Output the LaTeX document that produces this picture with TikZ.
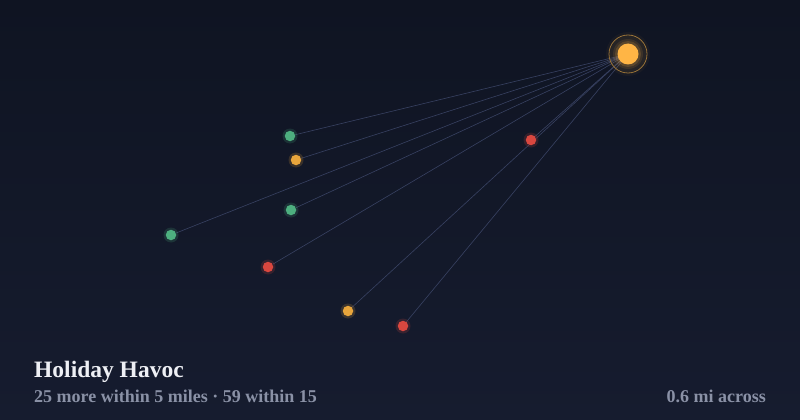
\documentclass[tikz,border=0pt]{standalone}
\usepackage{fontspec}
\setmainfont{Liberation Serif}
\usepackage{tikz}
\usepackage{xcolor}
\usetikzlibrary{positioning,backgrounds}

\definecolor{bgtop}{HTML}{0F1422}
\definecolor{bgbot}{HTML}{161C2F}
\definecolor{hubfill}{HTML}{FFB545}
\definecolor{hubring}{HTML}{9C7538}
\definecolor{spoke}{HTML}{3C4668}
\definecolor{pingreen}{HTML}{4DAF7F}
\definecolor{pinorange}{HTML}{E8A53C}
\definecolor{pinred}{HTML}{D9473F}
\definecolor{titletxt}{HTML}{EEF0F5}
\definecolor{subtxt}{HTML}{8A91A6}

\tikzset{
  pin/.style={circle, inner sep=0pt, minimum size=10.5pt, draw=none},
  hubdot/.style={circle, inner sep=0pt, minimum size=21pt, fill=hubfill},
  spokeline/.style={spoke, line width=0.6pt, opacity=0.9},
  caption/.style={anchor=base west, inner sep=0pt, text=subtxt, font=\bfseries\fontsize{18}{21}\selectfont}
}

\begin{document}
\begin{tikzpicture}[x=1pt, y=-1pt]
  % backdrop
  \begin{scope}[on background layer]
    \shade[top color=bgtop, bottom color=bgbot] (0,0) rectangle (800,420);
  \end{scope}
  \useasboundingbox (0,0) rectangle (800,420);

  % the hub with its glow and ring
  \foreach \r/\o in {22/0.04, 18/0.06, 15/0.10, 13/0.16} {
    \fill[hubfill, opacity=\o] (628,54) circle (\r);
  }
  \node[hubdot] (hub) at (628,54) {};
  \draw[hubring, line width=0.8pt] (hub.center) circle (19);

  % nearby places
  \foreach \x/\y/\c/\n in {290/136/pingreen/g1, 296/160/pinorange/o1,
                           291/210/pingreen/g2, 171/235/pingreen/g3,
                           268/267/pinred/r1, 348/311/pinorange/o2,
                           403/326/pinred/r2, 531/140/pinred/r3} {
    \fill[\c, opacity=0.18] (\x,\y) circle (7.5);
    \node[pin, fill=\c] (\n) at (\x,\y) {};
  }

  % spokes from hub
  \begin{scope}[on background layer]
    \foreach \n in {g1,o1,g2,g3,r1,o2,r2,r3} {
      \draw[spokeline] (hub.center) -- (\n);
    }
  \end{scope}

  % labels
  \node[anchor=base west, inner sep=0pt, text=titletxt,
        font=\bfseries\fontsize{23.5}{27}\selectfont] (title) at (34,377) {Holiday Havoc};
  \node[caption] (sub) at (34,402) {25 more within 5 miles · 59 within 15};
  \node[caption, anchor=base east] (scale) at (766,402) {0.6 mi across};
\end{tikzpicture}
\end{document}
